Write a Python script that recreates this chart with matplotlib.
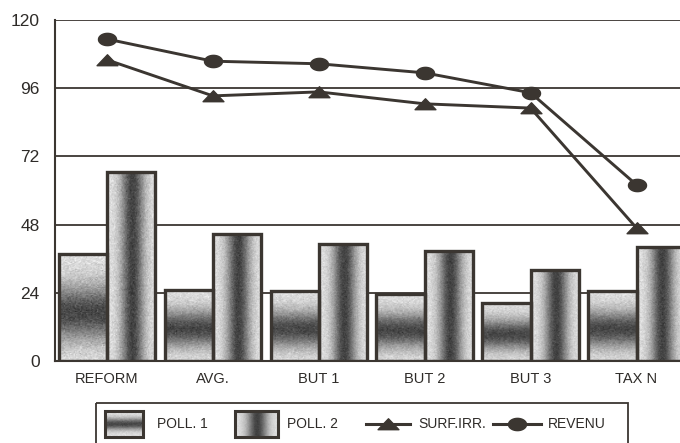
import numpy as np
import matplotlib
matplotlib.use("Agg")
import matplotlib.pyplot as plt
from matplotlib.path import Path
from matplotlib.patches import Rectangle
from matplotlib.lines import Line2D

plt.rcParams["font.family"] = ["Liberation Sans", "DejaVu Sans"]

categories = ["REFORM", "AVG.", "BUT 1", "BUT 2", "BUT 3", "TAX N"]
poll1 = [37.5, 25, 24.7, 23.6, 20.5, 24.7]
poll2 = [66.5, 44.7, 41.2, 38.7, 32, 40.2]
surf_irr = [106, 93.3, 94.7, 90.5, 89, 46.8]
revenu = [113.3, 105.5, 104.6, 101.4, 94.4, 62]
yticks = [0, 24, 48, 72, 96, 120]

INK = "#3b3631"
TXT = "#2e2b28"
W = 680.0
H = 443.0

rng = np.random.default_rng(3)


def shade_vertical(n=120, centre=0.45, width=0.26):
    # light top/bottom, dark band across the middle
    t = np.linspace(0, 1, n)
    g = 0.88 - 0.6 * np.exp(-((t - centre) / width) ** 2)
    img = np.repeat(g[:, None], 40, axis=1)
    img = img + rng.normal(0, 0.05, img.shape)
    return np.clip(img, 0, 1)


def shade_horizontal(n=80, centre=0.52, width=0.24):
    # light edges, dark stripe down the middle
    u = np.linspace(0, 1, n)
    g = 0.88 - 0.62 * np.exp(-((u - centre) / width) ** 2)
    img = np.repeat(g[None, :], 160, axis=0)
    img = img + rng.normal(0, 0.05, img.shape)
    return np.clip(img, 0, 1)


def fig_axes(x0, y0, x1, y1):
    # place axes using pixel coords measured from the top-left corner
    return fig.add_axes([x0 / W, (H - y1) / H, (x1 - x0) / W, (y1 - y0) / H])


fig = plt.figure(figsize=(6.8, 4.43), dpi=100)
fig.patch.set_facecolor("white")

ax = fig_axes(55, 20, 689.5, 361)
ax.set_xlim(-0.49, 5.5)
ax.set_ylim(0, 120)

for v in yticks[1:]:
    ax.axhline(v, color=INK, lw=1.3, zorder=1)

x = np.arange(len(categories))
bw = 0.455
for i in range(len(categories)):
    # POLL. 1 bar (left)
    x0 = x[i] - bw
    ax.imshow(shade_vertical(), cmap="gray", vmin=0, vmax=1, origin="lower",
              extent=(x0, x0 + bw, 0, poll1[i]), aspect="auto", zorder=2,
              interpolation="bilinear")
    ax.add_patch(Rectangle((x0, 0), bw, poll1[i], fill=False, ec=INK,
                           lw=2.4, zorder=3, joinstyle="miter"))
    # POLL. 2 bar (right)
    x0 = x[i]
    ax.imshow(shade_horizontal(), cmap="gray", vmin=0, vmax=1, origin="lower",
              extent=(x0, x0 + bw, 0, poll2[i]), aspect="auto", zorder=2,
              interpolation="bilinear")
    ax.add_patch(Rectangle((x0, 0), bw, poll2[i], fill=False, ec=INK,
                           lw=2.4, zorder=3, joinstyle="miter"))

ax.set_xlim(-0.49, 5.5)
ax.set_ylim(0, 120)

ell = Path(np.c_[np.cos(np.linspace(0, 2 * np.pi, 40)),
                 0.68 * np.sin(np.linspace(0, 2 * np.pi, 40))], closed=True)
tri = Path([(-1, -0.5), (1, -0.5), (0, 0.55), (-1, -0.5)], closed=True)

ax.plot(x, surf_irr, color=INK, lw=2.1, marker=tri, ms=15, mfc=INK,
        mec=INK, zorder=4, clip_on=False)
ax.plot(x, revenu, color=INK, lw=2.1, marker=ell, ms=13, mfc=INK,
        mec=INK, zorder=4, clip_on=False)

for s in ["top", "right"]:
    ax.spines[s].set_visible(False)
for s in ["left", "bottom"]:
    ax.spines[s].set_color(INK)
    ax.spines[s].set_linewidth(1.5)

ax.set_yticks(yticks)
ax.set_yticklabels([str(v) for v in yticks], fontsize=12.5, color=TXT)
ax.set_xticks(x)
ax.set_xticklabels(categories, fontsize=10.5, color=TXT)
ax.tick_params(axis="y", length=0, pad=11)
ax.tick_params(axis="x", length=0, pad=8)

# legend panel, partly running off the bottom edge
lax = fig_axes(95, 402, 628, 443)
lax.set_xlim(95, 628)
lax.set_ylim(443, 402)
lax.axis("off")
lax.add_patch(Rectangle((95.5, 402.5), 532, 60, fill=False, ec=INK, lw=1.3,
                        clip_on=False))

lax.imshow(shade_vertical(centre=0.5, width=0.22), cmap="gray", vmin=0,
           vmax=1, extent=(105, 143, 437, 411), aspect="auto",
           interpolation="bilinear")
lax.add_patch(Rectangle((105, 411), 38, 26, fill=False, ec=INK, lw=2.2))
lax.text(157, 424, "POLL. 1", fontsize=10, color=TXT, va="center")

lax.imshow(shade_horizontal(), cmap="gray", vmin=0, vmax=1,
           extent=(235, 278, 437, 411), aspect="auto",
           interpolation="bilinear")
lax.add_patch(Rectangle((235, 411), 43, 26, fill=False, ec=INK, lw=2.2))
lax.text(287, 424, "POLL. 2", fontsize=10, color=TXT, va="center")

lax.add_line(Line2D([366, 410], [424, 424], color=INK, lw=2.2))
lax.add_line(Line2D([388], [424], marker=tri, ms=15, color=INK))
lax.text(418, 424, "SURF.IRR.", fontsize=10, color=TXT, va="center")

lax.add_line(Line2D([493, 541], [424, 424], color=INK, lw=2.2))
lax.add_line(Line2D([517], [424], marker=ell, ms=13, color=INK))
lax.text(548, 424, "REVENU", fontsize=10, color=TXT, va="center")

fig.savefig("out.png", dpi=100)
